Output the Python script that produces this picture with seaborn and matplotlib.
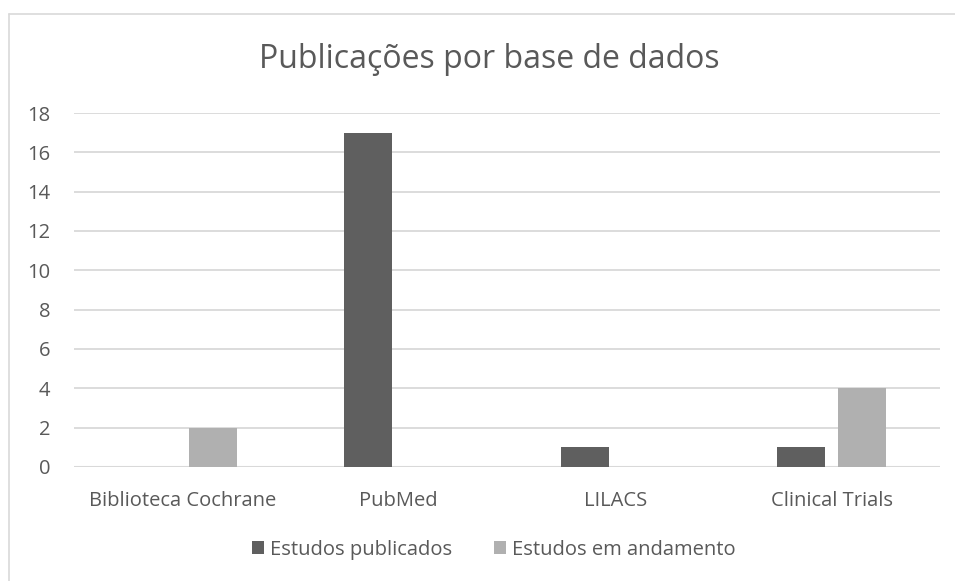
import matplotlib
matplotlib.use("Agg")
import matplotlib.pyplot as plt
import seaborn as sns
import pandas as pd
from matplotlib.lines import Line2D

categories = ["Biblioteca Cochrane", "PubMed", "LILACS", "Clinical Trials"]
publicados = [0, 17, 1, 1]
andamento = [2, 0, 0, 4]
series_names = ["Estudos publicados", "Estudos em andamento"]
yticks = [0, 2, 4, 6, 8, 10, 12, 14, 16, 18]

df = pd.DataFrame({
    "base": categories * 2,
    "valor": publicados + andamento,
    "serie": [series_names[0]] * 4 + [series_names[1]] * 4,
})

sns.set_theme(style="white")
plt.rcParams['font.family'] = ['Open Sans', 'DejaVu Sans']
text_color = "#595959"
grid_color = "#d9d9d9"
fs = 14.5

fig = plt.figure(figsize=(9.55, 5.81), dpi=100)
ax = fig.add_axes([74/955, 1-467/581, (940-74)/955, (467-113)/581])

sns.barplot(data=df, x="base", y="valor", hue="serie", order=categories,
            hue_order=series_names, palette=["#5f5f5f", "#b0b0b0"],
            width=0.564, gap=0.213, linewidth=0, saturation=1, ax=ax,
            legend=True, errorbar=None)

ax.set_xlim(-0.5, 3.5)
ax.set_ylim(0, 18)
ax.set_yticks(yticks)
ax.set_yticklabels([str(t) for t in yticks])
ax.yaxis.grid(True, color=grid_color, linewidth=1.3)
ax.set_axisbelow(True)
for s in ax.spines.values():
    s.set_visible(False)
ax.axhline(0, color=grid_color, linewidth=1.5, zorder=0.5)
ax.set_xlabel("")
ax.set_ylabel("")
ax.tick_params(axis="y", length=0, pad=17, labelsize=fs, labelcolor=text_color)
ax.tick_params(axis="x", length=0, pad=17, labelsize=fs, labelcolor=text_color)

fig.text(489/955, 1-60/581, "Publicações por base de dados", ha="center", va="center",
         fontsize=23, color=text_color)

handles, labels = ax.get_legend_handles_labels()
ax.legend_.remove()
fig.legend(handles, labels, loc="center", bbox_to_anchor=(494/955, 1-550/581), ncol=2,
           frameon=False, fontsize=fs, labelcolor=text_color, handlelength=0.62,
           handleheight=0.62, handletextpad=0.3, columnspacing=2.05)

fig.add_artist(Line2D([9/955, 9/955], [0, 1-14/581], transform=fig.transFigure,
                      color=grid_color, linewidth=1.2))
fig.add_artist(Line2D([9/955, 1], [1-14/581, 1-14/581], transform=fig.transFigure,
                      color=grid_color, linewidth=1.2))

fig.savefig("out.png", dpi=100, facecolor="white")
